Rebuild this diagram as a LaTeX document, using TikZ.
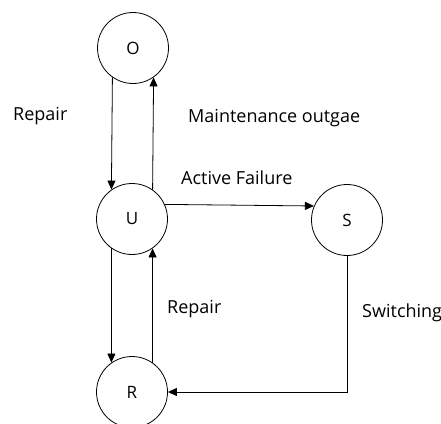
\documentclass[tikz,border=0pt]{standalone}
\usepackage{fontspec}
\setmainfont{Open Sans}
\usetikzlibrary{arrows.meta}
\begin{document}
\begin{tikzpicture}[x=1pt,y=-1pt,
  state/.style={draw,circle,minimum size=71pt,inner sep=0pt,line width=0.8pt,font=\fontsize{17}{20}\selectfont},
  lbl/.style={anchor=base west,inner sep=0pt,font=\fontsize{18}{21}\selectfont},
  arr/.style={line width=0.8pt,-{Triangle[length=9pt,width=8pt]}}]
\useasboundingbox (0,0) rectangle (441,423);
\node[state] (O) at (133,48) {O};
\node[state] (U) at (132,219) {U};
\node[state] (S) at (347,220) {S};
\node[state] (R) at (132,392) {R};
\draw[arr] (O.235) -- (U.125);
\draw[arr] (U.55) -- (O.305);
\draw[arr] (U.24) -- (S.157);
\draw[arr] (U.235) -- (R.125);
\draw[arr] (R.55) -- (U.305);
\draw[arr] (S.south) |- (R.east);
\node[lbl] (l1) at (13,120) {Repair};
\node[lbl] (l2) at (188,122) {Maintenance outgae};
\node[lbl] (l3) at (181,184) {Active Failure};
\node[lbl] (l4) at (167,313) {Repair};
\node[lbl] (l5) at (362,317) {Switching};
\end{tikzpicture}
\end{document}
